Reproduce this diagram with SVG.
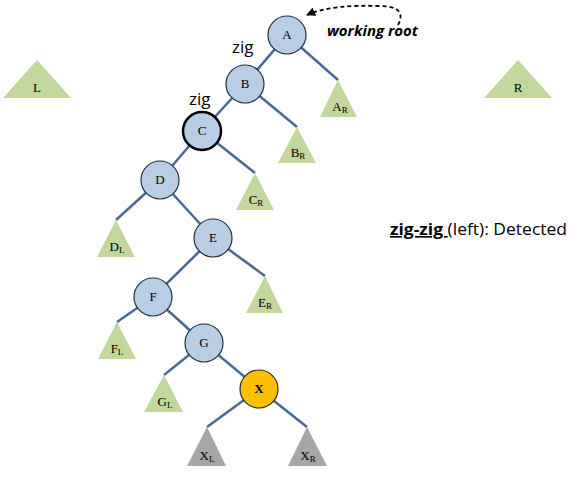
<svg xmlns="http://www.w3.org/2000/svg" width="578" height="480" viewBox="0 0 578 480">
<defs>
<style>
.edge{stroke:#4a6894;stroke-width:2.5;fill:none}
.node circle{fill:#b9cde5;stroke:#22303f;stroke-width:1.2}
.node text,.tri text{font-family:"Liberation Serif",serif;font-size:13px;text-anchor:middle;fill:#000}
.tri polygon{fill:#c3d69b}
.tri.gray polygon{fill:#a6a6a6}
.sub{font-size:9px}
.cal{font-family:"Open Sans","Liberation Sans",sans-serif;fill:#000}
</style>
<marker id="ah" viewBox="0 0 10 10" refX="9" refY="5" markerWidth="5" markerHeight="5" orient="auto">
<path d="M0,0 L10,5 L0,10 z" fill="#000"/>
</marker>
</defs>
<rect width="578" height="480" fill="#fff"/>
<g id="connectors">
<line class="edge" x1="287" y1="35" x2="245" y2="84"/>
<line class="edge" x1="287" y1="35" x2="338" y2="80"/>
<line class="edge" x1="245" y1="84" x2="202" y2="131"/>
<line class="edge" x1="245" y1="84" x2="297" y2="127"/>
<line class="edge" x1="202" y1="131" x2="160" y2="180"/>
<line class="edge" x1="202" y1="131" x2="255" y2="173"/>
<line class="edge" x1="160" y1="180" x2="116" y2="220"/>
<line class="edge" x1="160" y1="180" x2="213" y2="238"/>
<line class="edge" x1="213" y1="238" x2="153" y2="297"/>
<line class="edge" x1="213" y1="238" x2="265" y2="276"/>
<line class="edge" x1="153" y1="297" x2="117" y2="322"/>
<line class="edge" x1="153" y1="297" x2="204" y2="343"/>
<line class="edge" x1="204" y1="343" x2="164" y2="375"/>
<line class="edge" x1="204" y1="343" x2="259" y2="389"/>
<line class="edge" x1="259" y1="389" x2="207" y2="427"/>
<line class="edge" x1="259" y1="389" x2="307" y2="427"/>
<path d="M398,25 C404,14 400,6 380,6 C350,5 325,7 307,15" fill="none" stroke="#000" stroke-width="1.8" stroke-dasharray="4,3" marker-end="url(#ah)"/>
</g>
<g id="L" class="tri"><polygon points="37,60 3,98 71,98"/><text x="37" y="92">L</text></g>
<g id="R" class="tri"><polygon points="518,60 484,98 552,98"/><text x="518" y="92">R</text></g>
<g id="AR" class="tri"><polygon points="338,80 320,117 357,117"/><text x="340" y="111">A<tspan class="sub" dy="2">R</tspan></text></g>
<g id="BR" class="tri"><polygon points="297,127 278,163 316,163"/><text x="298" y="157">B<tspan class="sub" dy="2">R</tspan></text></g>
<g id="CR" class="tri"><polygon points="255,173 236,210 274,210"/><text x="256" y="204">C<tspan class="sub" dy="2">R</tspan></text></g>
<g id="DL" class="tri"><polygon points="116,220 97,257 135,257"/><text x="117" y="251">D<tspan class="sub" dy="2">L</tspan></text></g>
<g id="ER" class="tri"><polygon points="265,276 246,313 283,313"/><text x="265" y="307">E<tspan class="sub" dy="2">R</tspan></text></g>
<g id="FL" class="tri"><polygon points="117,322 98,359 136,359"/><text x="117" y="353">F<tspan class="sub" dy="2">L</tspan></text></g>
<g id="GL" class="tri"><polygon points="164,375 144,412 183,412"/><text x="165" y="406">G<tspan class="sub" dy="2">L</tspan></text></g>
<g id="XL" class="tri gray"><polygon points="207,427 187,466 226,466"/><text x="207" y="460">X<tspan class="sub" dy="2">L</tspan></text></g>
<g id="XR" class="tri gray"><polygon points="307,427 288,466 327,466"/><text x="308" y="460">X<tspan class="sub" dy="2">R</tspan></text></g>
<g id="A" class="node"><circle cx="287" cy="35" r="19"/><text x="287" y="39">A</text></g>
<g id="B" class="node"><circle cx="245" cy="84" r="19"/><text x="245" y="88">B</text></g>
<g id="C" class="node"><circle cx="202" cy="131" r="19" style="stroke:#000;stroke-width:2.5"/><text x="202" y="135">C</text></g>
<g id="D" class="node"><circle cx="160" cy="180" r="19"/><text x="160" y="184">D</text></g>
<g id="E" class="node"><circle cx="213" cy="238" r="19"/><text x="213" y="242">E</text></g>
<g id="F" class="node"><circle cx="153" cy="297" r="19"/><text x="153" y="301">F</text></g>
<g id="G" class="node"><circle cx="204" cy="343" r="19"/><text x="204" y="347">G</text></g>
<g id="X" class="node"><circle cx="259" cy="389" r="19" style="fill:#ffc000"/><text x="259" y="393" font-weight="bold">X</text></g>
<g id="labels">
<text class="cal" x="232" y="53" font-size="17">zig</text>
<text class="cal" x="189" y="105" font-size="17">zig</text>
<text class="cal" x="327" y="36" font-size="13.5" font-weight="bold" font-style="italic" textLength="91" lengthAdjust="spacingAndGlyphs">working root</text>
<text class="cal" x="390" y="235" font-size="16.5" textLength="177" lengthAdjust="spacingAndGlyphs"><tspan font-weight="bold" text-decoration="underline">zig-zig </tspan>(left): Detected</text>
</g>
</svg>
